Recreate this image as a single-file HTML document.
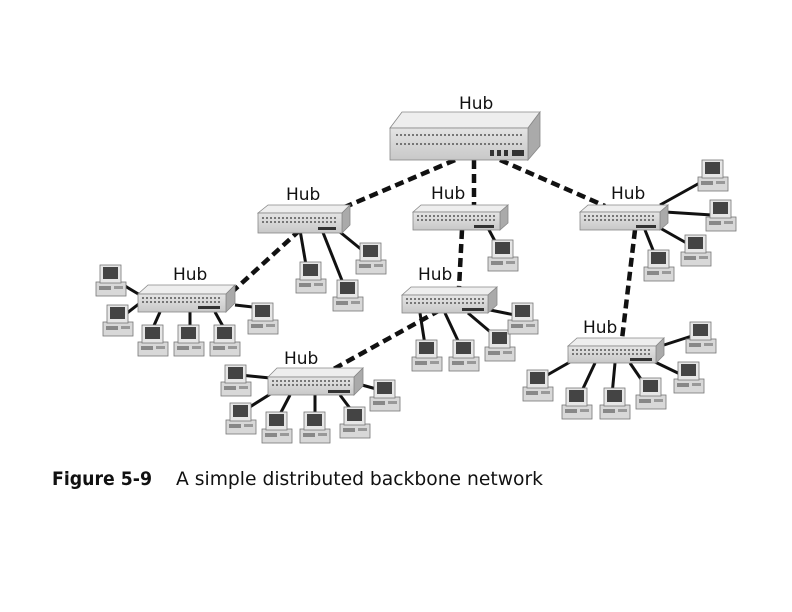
<!DOCTYPE html>
<html><head><meta charset="utf-8"><style>
html,body{margin:0;padding:0;background:#fff;}
svg{display:block;}
.lbl{font-family:"DejaVu Sans","Liberation Sans",sans-serif;font-size:17px;fill:#111;}
.cap{font-family:"DejaVu Sans","Liberation Sans",sans-serif;font-size:19px;fill:#111;}
</style></head><body>
<svg width="792" height="612" viewBox="0 0 792 612" xmlns="http://www.w3.org/2000/svg">
<defs>
<linearGradient id="hf" x1="0" y1="0" x2="0" y2="1"><stop offset="0" stop-color="#e4e4e4"/><stop offset="1" stop-color="#c8c8c8"/></linearGradient>
<g id="pc">
  <rect x="0" y="17" width="30" height="14" fill="#d8d8d8" stroke="#777" stroke-width="0.8"/>
  <rect x="3" y="21" width="12" height="4" fill="#888"/>
  <rect x="18" y="21" width="9" height="3" fill="#999"/>
  <rect x="4" y="0" width="21" height="18" fill="#e6e6e6" stroke="#777" stroke-width="0.8"/>
  <rect x="7" y="2" width="15" height="12" fill="#444"/>
</g>
</defs>

<g stroke="#111" stroke-width="4.5" stroke-dasharray="9,5" fill="none">
  <line x1="455" y1="160" x2="345" y2="207"/>
  <line x1="474" y1="160" x2="474" y2="206"/>
  <line x1="500" y1="160" x2="605" y2="206"/>
  <line x1="300" y1="230" x2="232" y2="292"/>
  <line x1="462" y1="230" x2="459" y2="288"/>
  <line x1="635" y1="230" x2="622" y2="339"/>
  <line x1="440" y1="310" x2="330" y2="371"/>
</g>

<g stroke="#111" stroke-width="3" fill="none">
  <line x1="300" y1="230" x2="306" y2="265"/><line x1="322" y1="230" x2="343" y2="283"/><line x1="335" y1="228" x2="362" y2="250"/>
  <line x1="488" y1="228" x2="497" y2="245"/>
  <line x1="660" y1="205" x2="705" y2="180"/><line x1="665" y1="212" x2="712" y2="215"/><line x1="660" y1="228" x2="690" y2="245"/><line x1="645" y1="230" x2="655" y2="255"/>
  <line x1="140" y1="295" x2="115" y2="280"/><line x1="140" y1="303" x2="118" y2="320"/><line x1="160" y1="312" x2="152" y2="330"/><line x1="190" y1="312" x2="190" y2="330"/><line x1="215" y1="312" x2="225" y2="330"/><line x1="235" y1="305" x2="262" y2="308"/>
  <line x1="420" y1="313" x2="425" y2="345"/><line x1="445" y1="313" x2="460" y2="345"/><line x1="468" y1="313" x2="494" y2="335"/><line x1="490" y1="310" x2="515" y2="315"/>
  <line x1="664" y1="345" x2="695" y2="335"/><line x1="655" y1="362" x2="682" y2="375"/><line x1="630" y1="363" x2="645" y2="385"/><line x1="615" y1="363" x2="612" y2="395"/><line x1="595" y1="363" x2="580" y2="395"/><line x1="570" y1="362" x2="542" y2="378"/>
  <line x1="270" y1="378" x2="240" y2="375"/><line x1="272" y1="393" x2="245" y2="410"/><line x1="290" y1="395" x2="277" y2="420"/><line x1="315" y1="395" x2="315" y2="420"/><line x1="340" y1="395" x2="355" y2="415"/><line x1="362" y1="385" x2="380" y2="390"/>
</g>

<g stroke="#888" stroke-width="0.8">
  <polygon points="390,128 402,112 540,112 528,128" fill="#eee"/>
  <polygon points="528,128 540,112 540,146 528,160" fill="#aaa"/>
  <rect x="390" y="128" width="138" height="32" fill="url(#hf)"/>
  <polygon points="258,213 268,205 350,205 342,213" fill="#eee"/><polygon points="342,213 350,205 350,225 342,233" fill="#aaa"/><rect x="258" y="213" width="84" height="20" fill="url(#hf)"/>
  <polygon points="413,212 421,205 508,205 500,212" fill="#eee"/><polygon points="500,212 508,205 508,223 500,230" fill="#aaa"/><rect x="413" y="212" width="87" height="18" fill="url(#hf)"/>
  <polygon points="580,212 588,205 668,205 660,212" fill="#eee"/><polygon points="660,212 668,205 668,223 660,230" fill="#aaa"/><rect x="580" y="212" width="80" height="18" fill="url(#hf)"/>
  <polygon points="138,294 148,285 235,285 226,294" fill="#eee"/><polygon points="226,294 235,285 235,303 226,312" fill="#aaa"/><rect x="138" y="294" width="88" height="18" fill="url(#hf)"/>
  <polygon points="402,295 411,287 497,287 488,295" fill="#eee"/><polygon points="488,295 497,287 497,305 488,313" fill="#aaa"/><rect x="402" y="295" width="86" height="18" fill="url(#hf)"/>
  <polygon points="568,346 577,338 664,338 656,346" fill="#eee"/><polygon points="656,346 664,338 664,355 656,363" fill="#aaa"/><rect x="568" y="346" width="88" height="17" fill="url(#hf)"/>
  <polygon points="268,377 277,368 363,368 354,377" fill="#eee"/><polygon points="354,377 363,368 363,386 354,395" fill="#aaa"/><rect x="268" y="377" width="86" height="18" fill="url(#hf)"/>
</g>
<g stroke="#555" stroke-width="1.5" stroke-dasharray="2,2">
  <line x1="396" y1="135" x2="522" y2="135"/><line x1="396" y1="144" x2="522" y2="144"/>
  <line x1="262" y1="218" x2="338" y2="218"/><line x1="262" y1="222" x2="338" y2="222"/>
  <line x1="417" y1="216" x2="496" y2="216"/><line x1="417" y1="220" x2="496" y2="220"/>
  <line x1="584" y1="216" x2="656" y2="216"/><line x1="584" y1="220" x2="656" y2="220"/>
  <line x1="142" y1="298" x2="222" y2="298"/><line x1="142" y1="302" x2="222" y2="302"/>
  <line x1="406" y1="299" x2="484" y2="299"/><line x1="406" y1="303" x2="484" y2="303"/>
  <line x1="572" y1="350" x2="652" y2="350"/><line x1="572" y1="354" x2="652" y2="354"/>
  <line x1="272" y1="381" x2="350" y2="381"/><line x1="272" y1="385" x2="350" y2="385"/>
</g>
<g fill="#333">
  <rect x="490" y="150" width="4" height="6"/><rect x="497" y="150" width="4" height="6"/><rect x="504" y="150" width="4" height="6"/><rect x="512" y="150" width="12" height="6"/>
  <rect x="318" y="227" width="18" height="3"/><rect x="474" y="225" width="20" height="3"/><rect x="636" y="225" width="20" height="3"/>
  <rect x="198" y="306" width="22" height="3"/><rect x="462" y="308" width="22" height="3"/><rect x="630" y="358" width="22" height="3"/><rect x="328" y="390" width="22" height="3"/>
</g>

<use href="#pc" x="296" y="262"/><use href="#pc" x="333" y="280"/><use href="#pc" x="356" y="243"/>
<use href="#pc" x="488" y="240"/>
<use href="#pc" x="698" y="160"/><use href="#pc" x="706" y="200"/><use href="#pc" x="681" y="235"/><use href="#pc" x="644" y="250"/>
<use href="#pc" x="96" y="265"/><use href="#pc" x="103" y="305"/><use href="#pc" x="138" y="325"/><use href="#pc" x="174" y="325"/><use href="#pc" x="210" y="325"/><use href="#pc" x="248" y="303"/>
<use href="#pc" x="412" y="340"/><use href="#pc" x="449" y="340"/><use href="#pc" x="485" y="330"/><use href="#pc" x="508" y="303"/>
<use href="#pc" x="686" y="322"/><use href="#pc" x="674" y="362"/><use href="#pc" x="636" y="378"/><use href="#pc" x="600" y="388"/><use href="#pc" x="562" y="388"/><use href="#pc" x="523" y="370"/>
<use href="#pc" x="221" y="365"/><use href="#pc" x="226" y="403"/><use href="#pc" x="262" y="412"/><use href="#pc" x="300" y="412"/><use href="#pc" x="340" y="407"/><use href="#pc" x="370" y="380"/>

<text class="lbl" x="459" y="109">Hub</text>
<text class="lbl" x="286" y="200">Hub</text>
<text class="lbl" x="431" y="199">Hub</text>
<text class="lbl" x="611" y="199">Hub</text>
<text class="lbl" x="173" y="280">Hub</text>
<text class="lbl" x="418" y="280">Hub</text>
<text class="lbl" x="583" y="333">Hub</text>
<text class="lbl" x="284" y="364">Hub</text>

<text class="cap" x="52" y="485" font-weight="bold" textLength="100" lengthAdjust="spacingAndGlyphs">Figure 5-9</text>
<text class="cap" x="176" y="485" textLength="367" lengthAdjust="spacingAndGlyphs">A simple distributed backbone network</text>
</svg>
</body></html>
